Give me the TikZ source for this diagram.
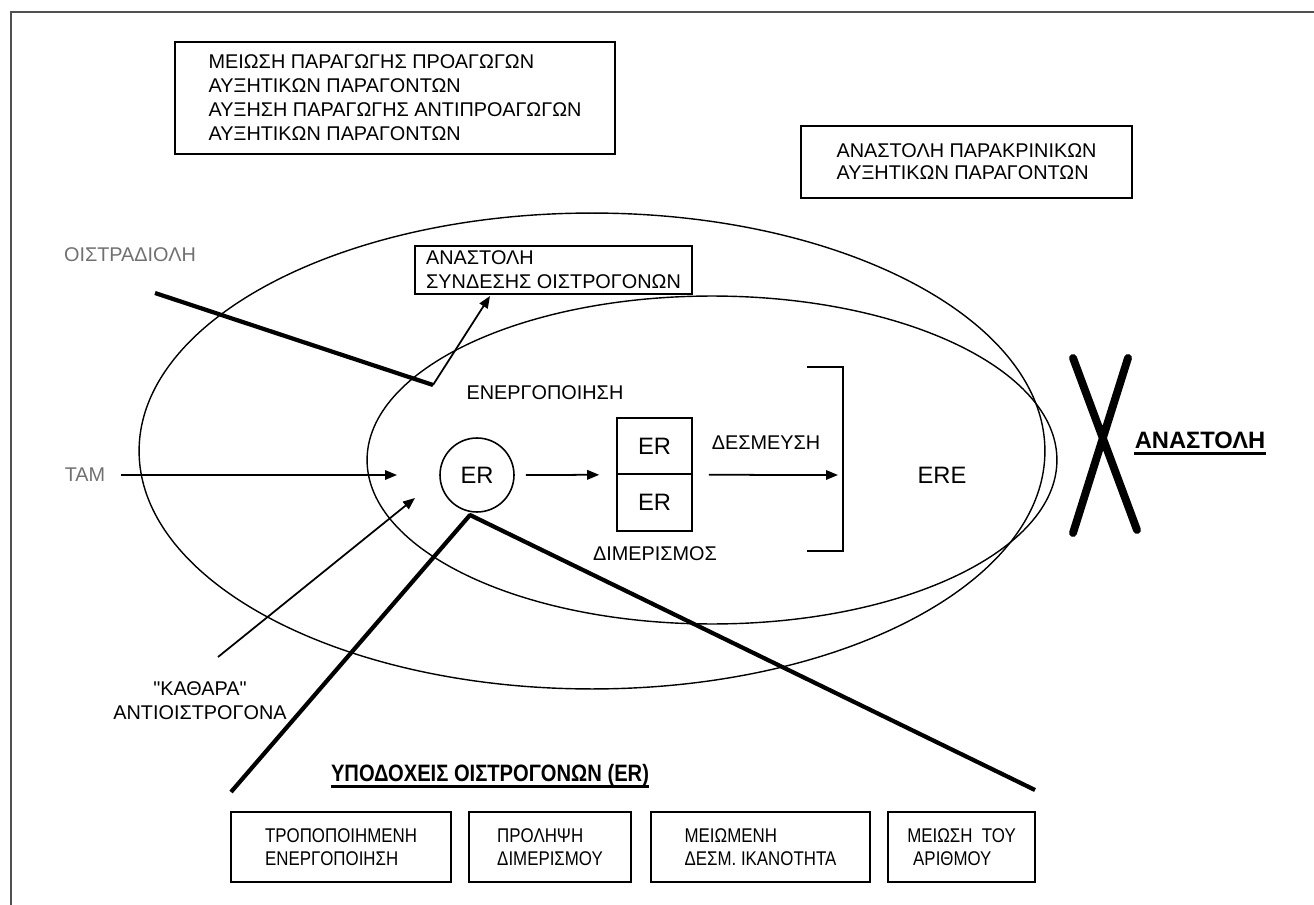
\documentclass[tikz,border=0pt]{standalone}
\usepackage{fontspec}
\setmainfont{Liberation Sans}[Ligatures=TeXOff]
\newfontfamily\narrowfont[FakeStretch=0.85]{Liberation Sans}
\usetikzlibrary{arrows.meta,calc}
\usepackage{xcolor}
\definecolor{ScanGray}{HTML}{707070}
\definecolor{FrameGray}{HTML}{505050}

\begin{document}
\begin{tikzpicture}[x=0.02cm,y=-0.02cm,
    txt/.style={font=\fontsize{11.3}{13.6}\selectfont,align=left,inner sep=0pt},
    txtbox/.style={txt,draw,line width=0.9pt},
    narrowbox/.style={txtbox,font=\narrowfont\fontsize{11.3}{13}\selectfont},
    erfont/.style={font=\fontsize{13.5}{16}\selectfont},
    arr/.style={line width=1pt,-{Triangle[length=0.24cm,width=0.19cm]}},
    heavy/.style={line width=2.4pt,line join=round},
    orbit/.style={line width=0.8pt}]
    \useasboundingbox (0,0) rectangle (1314,905);
    \draw[FrameGray,line width=0.9pt] (1314,12) -- (11,12) -- (11,905);

    \draw[orbit] (592,451) ellipse [x radius=9.06cm,y radius=4.76cm];
    \draw[orbit] (712,460) ellipse [x radius=6.9cm,y radius=3.28cm];

    \node[txtbox,minimum width=8.8cm,minimum height=2.24cm] (growth) at (395,98)
      {ΜΕΙΩΣΗ ΠΑΡΑΓΩΓΗΣ ΠΡΟΑΓΩΓΩΝ\\ ΑΥΞΗΤΙΚΩΝ ΠΑΡΑΓΟΝΤΩΝ\\ ΑΥΞΗΣΗ ΠΑΡΑΓΩΓΗΣ ΑΝΤΙΠΡΟΑΓΩΓΩΝ\\ ΑΥΞΗΤΙΚΩΝ ΠΑΡΑΓΟΝΤΩΝ};
    \node[txtbox,font=\fontsize{11.3}{12.4}\selectfont,minimum width=6.62cm,minimum height=1.44cm] (paracrine) at (966.5,162)
      {ΑΝΑΣΤΟΛΗ ΠΑΡΑΚΡΙΝΙΚΩΝ\\ΑΥΞΗΤΙΚΩΝ ΠΑΡΑΓΟΝΤΩΝ};
    \node[txtbox,minimum width=5.54cm,minimum height=0.96cm] (binding) at (553.5,270)
      {ΑΝΑΣΤΟΛΗ\\ΣΥΝΔΕΣΗΣ ΟΙΣΤΡΟΓΟΝΩΝ};

    \node[txt,text=ScanGray] (estradiol) at (130,255) {ΟΙΣΤΡΑΔΙΟΛΗ};
    \node[txt,text=ScanGray] (tam) at (85,475) {TAM};
    \node[txt,align=center] (pure) at (200,701) {"ΚΑΘΑΡΑ"\\ΑΝΤΙΟΙΣΤΡΟΓΟΝΑ};
    \node[txt] (activation) at (545,393) {ΕΝΕΡΓΟΠΟΙΗΣΗ};

    \node[circle,draw,line width=0.9pt,minimum size=1.48cm,inner sep=0pt,erfont] (er) at (477,475) {ER};
    \node[draw,line width=0.9pt,minimum width=1.5cm,minimum height=1.12cm,erfont] (dimtop) at (654.5,446) {ER};
    \node[draw,line width=0.9pt,minimum width=1.5cm,minimum height=1.14cm,erfont] (dimbot) at (654.5,502.5) {ER};
    \node[txt] (dimer) at (655,554) {ΔΙΜΕΡΙΣΜΟΣ};
    \node[txt] (bind) at (766,443) {ΔΕΣΜΕΥΣΗ};
    \node[txt,erfont] (ere) at (942,475) {ERE};

    \coordinate (tamtip) at (397,475);
    \coordinate (puretail) at (218,657);
    \coordinate (puretip) at (415,498);
    \coordinate (e2start) at (155,293);
    \coordinate (e2bend) at (433,385);
    \coordinate (e2tip) at (490,296);
    \coordinate (eretip) at (838,475);
    \coordinate (brktop) at (807,367);
    \coordinate (brkbot) at (807,551);

    \draw[arr,shorten <=0.3cm] (tam.east) -- (tamtip);
    \draw[arr] (puretail) -- (puretip);
    \draw[heavy] (e2start) -- (e2bend);
    \draw[arr] (e2bend) -- (e2tip);
    \draw[arr,shorten <=0.22cm,shorten >=0.34cm] (er.east) -- (dimtop.south west);
    \draw[arr,shorten <=0.32cm] (dimtop.south east) -- (eretip);
    \draw[line width=1.1pt] (brktop) -- ++(36,0) |- (brkbot);

    \coordinate (xa1) at (1073,358);
    \coordinate (xa2) at (1137,530);
    \coordinate (xb1) at (1128,358);
    \coordinate (xb2) at (1073,533);
    \draw[line width=4.5pt,line cap=round] (xa1) -- (xa2) (xb1) -- (xb2);
    \node[txt,font=\bfseries\fontsize{13.5}{16}\selectfont] (stop) at (1200,440) {ΑΝΑΣΤΟΛΗ};
    \draw[line width=1.3pt] ([yshift=-3pt]stop.base west) -- ([yshift=-3pt]stop.base east);

    \coordinate (erfoot) at (470,515);
    \coordinate (legleft) at (231,792);
    \coordinate (legright) at (1035,790);
    \draw[heavy] (legleft) -- (erfoot) -- (legright);

    \node[txt,font=\narrowfont\bfseries\fontsize{13.5}{16}\selectfont] (receptors) at (490,775) {ΥΠΟΔΟΧΕΙΣ ΟΙΣΤΡΟΓΟΝΩΝ (ER)};
    \draw[line width=1.3pt] ([yshift=-3pt]receptors.base west) -- ([yshift=-3pt]receptors.base east);

    \foreach \cx/\bw/\id/\lines in {341/4.4/modified/{ΤΡΟΠΟΠΟΙΗΜΕΝΗ\\ΕΝΕΡΓΟΠΟΙΗΣΗ},
        550/3.24/nodimer/{ΠΡΟΛΗΨΗ\\ΔΙΜΕΡΙΣΜΟΥ},
        760.5/4.38/lowbind/{ΜΕΙΩΜΕΝΗ\\ΔΕΣΜ. ΙΚΑΝΟΤΗΤΑ},
        961.5/2.94/fewer/{ΜΕΙΩΣΗ\ \ ΤΟΥ\\\hspace*{0.3em}ΑΡΙΘΜΟΥ}}
      \node[narrowbox,minimum width=\bw cm,minimum height=1.4cm] (\id) at (\cx,847) {\lines};
\end{tikzpicture}
\end{document}
